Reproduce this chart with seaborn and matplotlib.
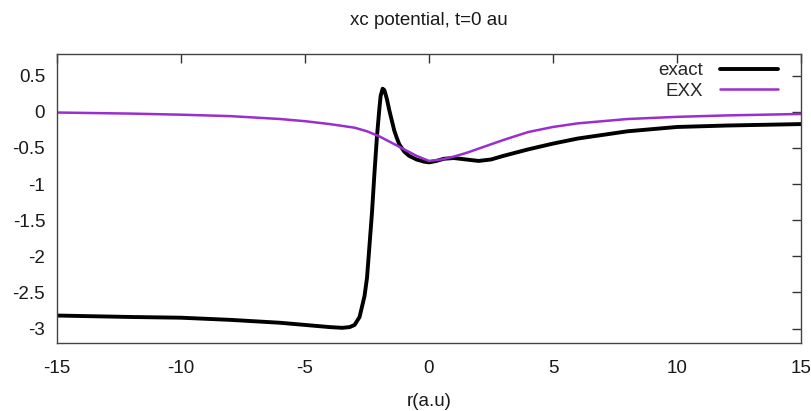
import matplotlib
matplotlib.use("Agg")
import matplotlib.pyplot as plt
import seaborn as sns
import pandas as pd

exact_r = [-15, -12, -10, -8, -6, -5, -4, -3.5, -3.2, -3.0, -2.8, -2.6, -2.5, -2.4, -2.3,
           -2.2, -2.1, -2.0, -1.95, -1.87, -1.8, -1.7, -1.6, -1.5, -1.4, -1.3, -1.2, -1.0,
           -0.8, -0.5, -0.2, 0.0, 0.3, 0.6, 1.0, 1.5, 2.0, 2.5, 3.0, 4.0, 5.0, 6.0, 7.0,
           8.0, 9.0, 10, 12, 15]
exact_v = [-2.82, -2.84, -2.85, -2.88, -2.92, -2.95, -2.98, -2.99, -2.98, -2.95, -2.84,
           -2.55, -2.30, -1.85, -1.40, -0.85, -0.35, 0.05, 0.22, 0.32, 0.30, 0.18, 0.02,
           -0.12, -0.26, -0.36, -0.45, -0.55, -0.61, -0.66, -0.69, -0.70, -0.68, -0.65,
           -0.64, -0.66, -0.68, -0.66, -0.61, -0.52, -0.44, -0.37, -0.32, -0.27, -0.24,
           -0.21, -0.19, -0.17]

exx_r = [-15, -12, -10, -8, -6, -5, -4, -3, -2.5, -2, -1.5, -1, -0.5, 0, 0.5, 1, 1.5, 2,
         3, 4, 5, 6, 8, 10, 12, 15]
exx_v = [-0.01, -0.025, -0.04, -0.06, -0.10, -0.13, -0.17, -0.22, -0.27, -0.34, -0.43,
         -0.52, -0.61, -0.68, -0.66, -0.62, -0.57, -0.51, -0.39, -0.28, -0.21, -0.16,
         -0.10, -0.07, -0.05, -0.03]

xticks = [-15, -10, -5, 0, 5, 10, 15]
yticks = [0.5, 0, -0.5, -1, -1.5, -2, -2.5, -3]
ytick_labels = ["0.5", "0", "-0.5", "-1", "-1.5", "-2", "-2.5", "-3"]

sns.set_theme(style="white")
plt.rcParams['font.family'] = ['Liberation Sans', 'DejaVu Sans']
plt.rcParams['axes.unicode_minus'] = False

df = pd.concat([
    pd.DataFrame({"r": exact_r, "v": exact_v, "s": "exact"}),
    pd.DataFrame({"r": exx_r, "v": exx_v, "s": "EXX"}),
])

FS = 13.5
TXT = "#1a1a1a"

fig = plt.figure(figsize=(8.12, 4.11), dpi=100)
ax = fig.add_axes([57/812, 1-343/411, (801-57)/812, (343-54)/411])

sns.lineplot(data=df[df.s == "exact"], x="r", y="v", ax=ax, color="black", lw=2.8,
             label="exact", sort=False)
sns.lineplot(data=df[df.s == "EXX"], x="r", y="v", ax=ax, color="#9a2ecf", lw=1.8,
             label="EXX", sort=False)

ax.set_xlim(-15, 15)
ax.set_ylim(-3.2, 0.8)
ax.set_xticks(xticks)
ax.set_yticks(yticks)
ax.set_xticklabels([str(t) for t in xticks])
ax.set_yticklabels(ytick_labels)
ax.tick_params(direction="in", length=6.5, width=1, color="#333333", labelsize=FS,
               labelcolor=TXT, top=True, right=True)
ax.tick_params(axis="y", pad=8.5)
ax.tick_params(axis="x", pad=12.5)
for sp in ax.spines.values():
    sp.set_color("#444444")
    sp.set_linewidth(1)

ax.set_xlabel("r(a.u)", fontsize=FS, color=TXT, labelpad=11)
ax.set_ylabel("")
ax.set_title("xc potential, t=0 au", fontsize=FS, color=TXT, pad=21)

leg = ax.legend(loc="upper right", frameon=False, markerfirst=False, fontsize=FS,
                handlelength=3.1, handletextpad=0.9, borderpad=0, borderaxespad=0,
                labelspacing=0.2,
                bbox_to_anchor=(778/812, 1 - 62/411), bbox_transform=fig.transFigure)

fig.savefig("out.png", dpi=100)
